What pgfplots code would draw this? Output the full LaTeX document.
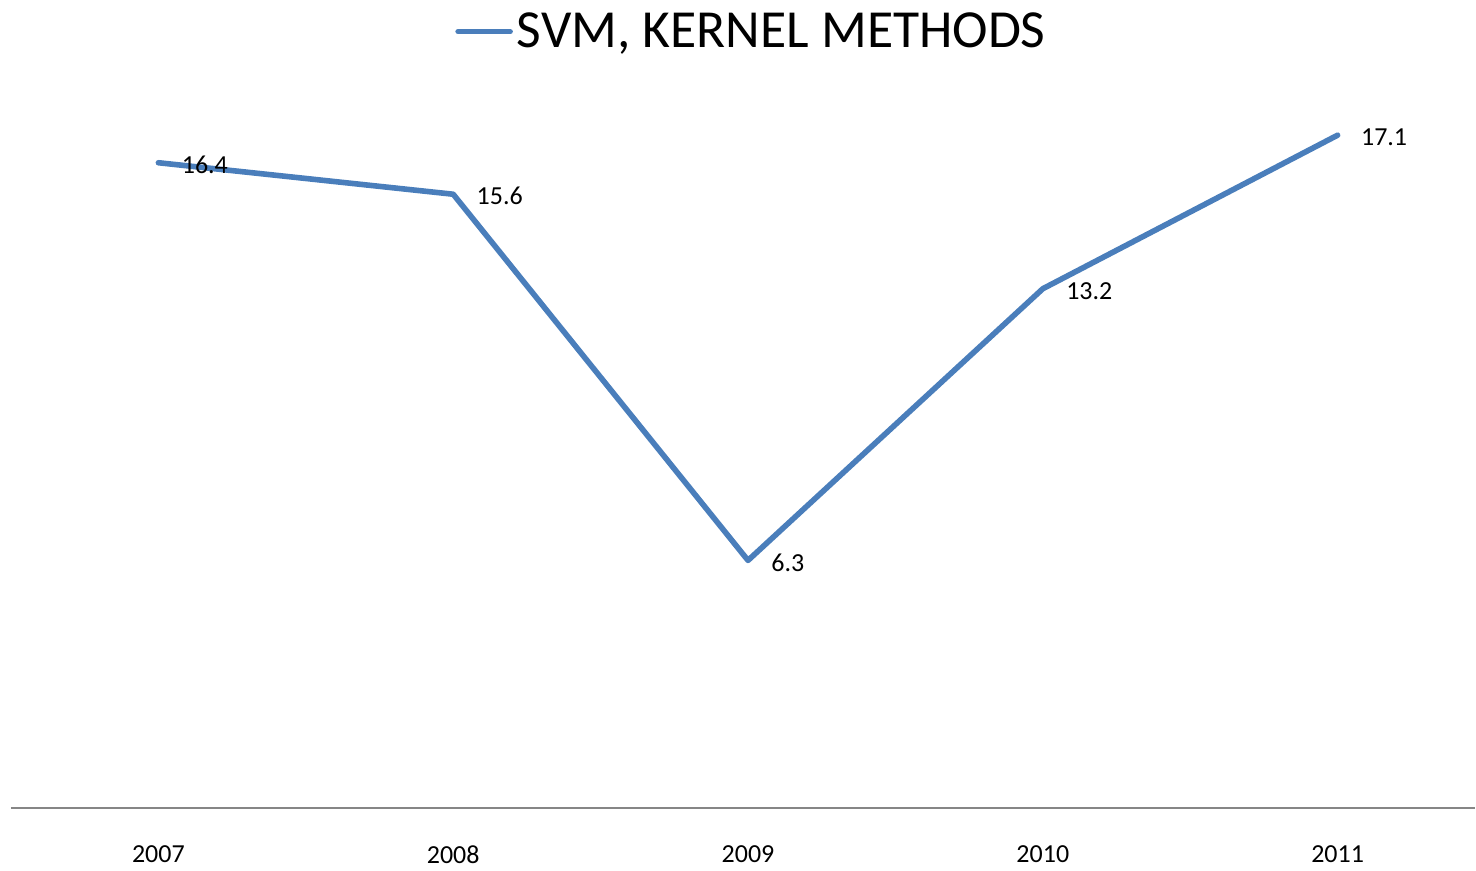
\documentclass[border=0pt]{standalone}
\usepackage{fontspec}
\setmainfont{Carlito}
\usepackage{pgfplots}
\pgfplotsset{compat=1.18}
\usetikzlibrary{calc}
\definecolor{svmblue}{RGB}{74,126,187}
\definecolor{axisgray}{RGB}{134,134,134}

\begin{document}
\begin{tikzpicture}
\begin{axis}[
  scale only axis,
  width = 732.5pt,
  height = 354.6pt,
  xmin = -0.5, xmax = 4.466,
  ymin = 0, ymax = 18,
  axis x line = bottom,
  axis y line = none,
  axis line style = {-, draw=axisgray, line width=1pt},
  xtick = {0,1,2,3,4},
  xticklabels = {2007,2008,2009,2010,2011},
  xtick style = {draw=none},
  xticklabel style = {font=\fontsize{13}{15}\selectfont, anchor=north, yshift=-13pt},
  ytick = \empty,
  legend style = {at={(0.5065,1.096)}, anchor=center, draw=none, fill=none,
                  font=\fontsize{26.8}{31}\selectfont, inner sep=0pt},
  legend image code/.code = {\draw[#1, line cap=round] (0pt,0pt) -- (26pt,0pt);},
  nodes near coords,
  nodes near coords style = {font=\fontsize{13}{15}\selectfont, anchor=west, xshift=7pt, yshift=-1pt, text=black,
                             /pgf/number format/fixed, /pgf/number format/precision=1,
                             /pgf/number format/fixed zerofill,
                             /pgf/number format/assume math mode=true},
  clip = false,
]
\addplot[svmblue, line width=2.8pt, line cap=round, line join=round, mark=none]
  coordinates {(0,16.4) (1,15.6) (2,6.3) (3,13.2) (4,17.1)};
\addlegendentry{SVM, KERNEL METHODS}
\end{axis}
\useasboundingbox ($(current axis.south west)+(-5.5pt,-27.5pt)$) rectangle ($(current axis.south east)+(0pt,404.5pt)$);
\end{tikzpicture}
\end{document}
